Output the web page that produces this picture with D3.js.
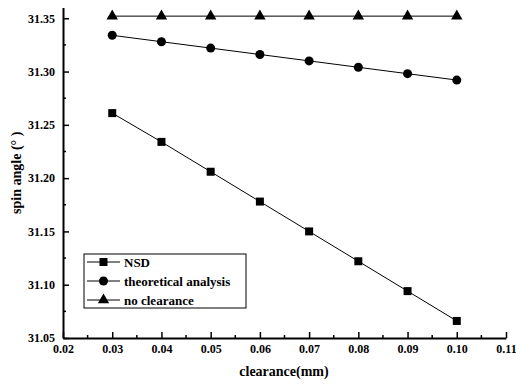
<!DOCTYPE html>
<html>
<head>
<meta charset="utf-8">
<script src="https://cdn.jsdelivr.net/npm/d3@7"></script>
<style>
  body { margin: 0; background: #fff; }
  svg { display: block; }
</style>
</head>
<body>
<svg id="chart"></svg>
<script>
// data
var clearance = [0.03, 0.04, 0.05, 0.06, 0.07, 0.08, 0.09, 0.10];
var nsd = [31.261, 31.234, 31.206, 31.178, 31.150, 31.122, 31.094, 31.066];
var theory = [31.334, 31.328, 31.322, 31.316, 31.310, 31.304, 31.298, 31.292];
var noClearance = [31.352, 31.352, 31.352, 31.352, 31.352, 31.352, 31.352, 31.352];
var seriesNames = ["NSD", "theoretical analysis", "no clearance"];
var xTicks = [0.02, 0.03, 0.04, 0.05, 0.06, 0.07, 0.08, 0.09, 0.10, 0.11];
var yTicks = [31.05, 31.10, 31.15, 31.20, 31.25, 31.30, 31.35];

var FONT = "'Liberation Serif', 'Times New Roman', Times, serif";
var width = 516, height = 386;
var plotLeft = 63, plotRight = 506, plotTop = 7.6, plotBottom = 338;

var svg = d3.select("#chart").attr("width", width).attr("height", height)
  .attr("font-family", FONT).attr("font-weight", "bold");

var x = d3.scaleLinear().domain([0.02, 0.11]).range([plotLeft, plotRight]);
var y = d3.scaleLinear().domain([31.05, 31.36]).range([plotBottom, plotTop]);

// minor ticks halfway between majors
var xMinor = d3.range(0.025, 0.11, 0.01);
var yMinor = d3.range(31.075, 31.36, 0.05);

var g = svg.append("g");

// bottom axis, ticks pointing in
var xAxis = g.append("g").attr("transform", "translate(0," + plotBottom + ")")
  .call(d3.axisBottom(x).tickValues(xTicks).tickSizeInner(-6).tickSizeOuter(0)
    .tickFormat(d3.format(".2f")));
xAxis.append("g").selectAll("line").data(xMinor).enter().append("line")
  .attr("x1", function(d) { return x(d); }).attr("x2", function(d) { return x(d); })
  .attr("y1", 0).attr("y2", -3).attr("stroke", "#000").attr("stroke-width", 1.5);

var yAxis = g.append("g").attr("transform", "translate(" + plotLeft + ",0)")
  .call(d3.axisLeft(y).tickValues(yTicks).tickSizeInner(-6).tickSizeOuter(0)
    .tickFormat(d3.format(".2f")));
yAxis.append("g").selectAll("line").data(yMinor).enter().append("line")
  .attr("y1", function(d) { return y(d); }).attr("y2", function(d) { return y(d); })
  .attr("x1", 0).attr("x2", 3).attr("stroke", "#000").attr("stroke-width", 1.5);

[xAxis, yAxis].forEach(function(a) {
  a.attr("font-family", FONT).attr("font-size", 12);
  a.select(".domain").attr("stroke-width", 2);
  a.selectAll(".tick line").attr("stroke-width", 1.5);
});
xAxis.selectAll(".tick text").attr("dy", "0.71em").attr("y", 6);
yAxis.selectAll(".tick text").attr("x", -8);

// axis titles
svg.append("text").attr("x", 284).attr("y", 376).attr("text-anchor", "middle")
  .attr("font-size", 14).text("clearance(mm)");
svg.append("text").attr("transform", "translate(21," + ((plotTop + plotBottom) / 2) + ") rotate(-90)")
  .attr("text-anchor", "middle").attr("font-size", 14).text("spin angle (° )");

var series = [
  {name: seriesNames[0], values: nsd, shape: d3.symbolSquare, size: 64},
  {name: seriesNames[1], values: theory, shape: d3.symbolCircle, size: 64},
  {name: seriesNames[2], values: noClearance, shape: d3.symbolTriangle, size: 56}
];

var line = d3.line()
  .x(function(d) { return x(d.x); })
  .y(function(d) { return y(d.y); });

series.forEach(function(s) {
  var pts = clearance.map(function(c, i) { return {x: c, y: s.values[i]}; });
  svg.append("path").datum(pts).attr("d", line)
    .attr("fill", "none").attr("stroke", "#000").attr("stroke-width", 1);
  svg.append("g").selectAll("path").data(pts).enter().append("path")
    .attr("d", d3.symbol().type(s.shape).size(s.size))
    .attr("transform", function(d) { return "translate(" + x(d.x) + "," + y(d.y) + ")"; })
    .attr("fill", "#000");
});

// legend
var legend = svg.append("g").attr("transform", "translate(84,254)");
legend.append("rect").attr("width", 162).attr("height", 54)
  .attr("fill", "#fff").attr("stroke", "#000").attr("stroke-width", 1);
var rows = legend.selectAll("g.row").data(series).enter().append("g")
  .attr("class", "row")
  .attr("transform", function(d, i) { return "translate(0," + (8 + i * 19) + ")"; });
rows.append("line").attr("x1", 3).attr("x2", 36).attr("stroke", "#000").attr("stroke-width", 1);
rows.append("path").attr("transform", "translate(19.5,0)")
  .attr("d", function(d) { return d3.symbol().type(d.shape).size(d.size)(); })
  .attr("fill", "#000");
rows.append("text").attr("x", 40).attr("dy", "0.35em").attr("font-size", 13)
  .text(function(d) { return d.name; });
</script>
</body>
</html>
